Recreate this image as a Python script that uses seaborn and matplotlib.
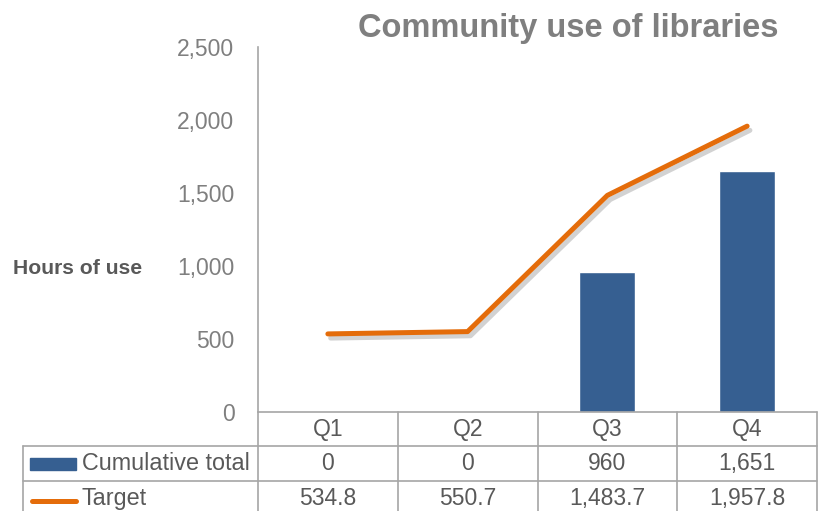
import seaborn as sns
import matplotlib.pyplot as plt
import matplotlib.patheffects as pe
from matplotlib.lines import Line2D
from matplotlib.patches import Rectangle
from matplotlib.ticker import FuncFormatter

quarters = ['Q1', 'Q2', 'Q3', 'Q4']
cumulative = [0, 0, 960, 1651]
target = [534.8, 550.7, 1483.7, 1957.8]
cumulative_txt = ['0', '0', '960', '1,651']
target_txt = ['534.8', '550.7', '1,483.7', '1,957.8']

BLUE = '#365F91'
ORANGE = '#E46C0A'
GRAY = '#7F7F7F'
EDGE = '#A6A6A6'
FS = 16.5

sns.set_style('white')
plt.rcParams['font.family'] = ['Liberation Sans', 'DejaVu Sans']

fig = plt.figure(figsize=(8.19, 5.11), dpi=100)
ax = fig.add_axes([258 / 819, 99 / 511, 559 / 819, 365 / 511])

sns.barplot(x=quarters, y=cumulative, color=BLUE, width=0.4, saturation=1, ax=ax)
sns.lineplot(x=quarters, y=target, color=ORANGE, lw=3.6, sort=False, ax=ax,
             solid_capstyle='round',
             path_effects=[pe.SimpleLineShadow(offset=(2, -3), shadow_color='#7F7F7F', alpha=0.35),
                           pe.Normal()])

ax.set_xlim(-0.5, 3.5)
ax.set_ylim(0, 2500)
ax.set_yticks(range(0, 2501, 500))
ax.yaxis.set_major_formatter(FuncFormatter(lambda v, p: f'{v:,.0f}'))
ax.tick_params(axis='y', length=0, pad=17, labelsize=FS, labelcolor=GRAY)
ax.set_xticks([])
ax.set_xlabel('')
ax.set_ylabel('')
for s in ['top', 'right', 'bottom']:
    ax.spines[s].set_visible(False)
ax.spines['left'].set_color(EDGE)
ax.spines['left'].set_linewidth(1.2)

# data table below the plot
tr = ax.get_xaxis_transform()
px = 1 / 365
rows = [0, -34 * px, -69 * px, -104 * px]
left = -2.18
kw = dict(color=EDGE, lw=1.2, clip_on=False, transform=tr)
ax.add_line(Line2D([-0.5, 3.5], [0, 0], **kw))
ax.add_line(Line2D([left, 3.5], [rows[1], rows[1]], **kw))
ax.add_line(Line2D([left, 3.5], [rows[2], rows[2]], **kw))
for xv in [-0.5, 0.5, 1.5, 2.5, 3.5]:
    ax.add_line(Line2D([xv, xv], [0, rows[3]], **kw))
ax.add_line(Line2D([left, left], [rows[1], rows[3]], **kw))

tkw = dict(transform=tr, ha='center', va='center', fontsize=FS, color='#595959', clip_on=False)
for i, q in enumerate(quarters):
    ax.text(i, (rows[0] + rows[1]) / 2, q, **tkw)
    ax.text(i, (rows[1] + rows[2]) / 2, cumulative_txt[i], **tkw)
    ax.text(i, (rows[2] + rows[3]) / 2, target_txt[i], **tkw)

# legend keys in row header
ax.add_patch(Rectangle((left + 0.05, (rows[1] + rows[2]) / 2 - 6 * px), 0.33, 12 * px,
                       color=BLUE, transform=tr, clip_on=False))
ax.add_line(Line2D([left + 0.06, left + 0.38], [(rows[2] + rows[3]) / 2 - 2 * px] * 2, color=ORANGE,
                   lw=3.6, transform=tr, clip_on=False, solid_capstyle='round'))
ax.text(left + 0.42, (rows[1] + rows[2]) / 2, 'Cumulative total', transform=tr, ha='left',
        va='center', fontsize=16.8, color='#595959', clip_on=False)
ax.text(left + 0.42, (rows[2] + rows[3]) / 2, 'Target', transform=tr, ha='left',
        va='center', fontsize=16.8, color='#595959', clip_on=False)

fig.text(568 / 819, 1 - 28 / 511, 'Community use of libraries', ha='center', va='center',
         fontsize=23.5, fontweight='bold', color=GRAY)
fig.text(13 / 819, 1 - 268 / 511, 'Hours of use', ha='left', va='center',
         fontsize=15.2, fontweight='bold', color='#595959')

fig.savefig('out.png', dpi=100)
